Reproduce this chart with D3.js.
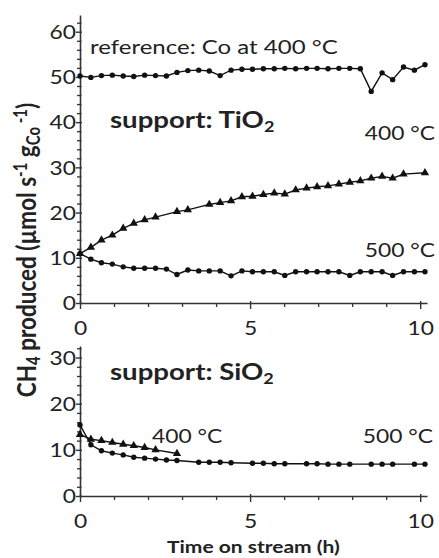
<!DOCTYPE html>
<html><head><meta charset="utf-8">
<script src="https://cdn.jsdelivr.net/npm/d3@7"></script>
<style>
body{margin:0;background:#fff}
text{font-family:Lato,'Open Sans',sans-serif;fill:#222}
</style>
</head><body>
<svg id="c" width="439" height="558"></svg>
<script>
// ---------- data ----------
const gridTimes = [0,0.32,0.63,0.95,1.27,1.58,1.9,2.22,2.54,2.85,3.17,3.49,3.8,4.12,4.44,4.76,5.07,5.39,5.71,6.02,6.34,6.66,6.97,7.29,7.61,7.93,8.24,8.56,8.88,9.19,9.51,9.83,10.14];
const coRefValues = [50.2,49.9,50.3,50.4,50.2,50.1,50.4,50.3,50.2,51.0,51.4,51.5,51.3,50.3,51.5,51.7,51.7,51.8,51.8,51.9,51.8,51.9,51.9,51.8,51.9,51.9,51.8,46.8,50.9,49.4,52.2,51.5,52.7];

const ti400Times = [0,0.32,0.63,0.95,1.27,1.58,1.9,2.22,2.85,3.17,3.8,4.12,4.44,4.76,5.07,5.39,5.71,6.02,6.34,6.66,6.97,7.29,7.61,7.93,8.24,8.56,8.88,9.19,9.51,10.14];
const ti400Values = [10.9,12.3,13.9,15.0,16.5,17.6,18.4,19.0,20.2,20.6,21.8,22.2,22.6,23.5,23.6,24.0,24.3,24.1,25.0,25.4,25.7,25.9,26.3,26.7,27.0,27.6,28.0,27.6,28.5,28.8];

const ti500Values = [10.9,9.7,8.9,8.6,8.0,7.7,7.7,7.7,7.5,6.3,7.3,7.1,7.1,7.1,6.0,7.1,6.9,6.9,6.9,6.1,6.9,6.9,6.9,6.9,6.9,6.1,6.9,6.9,6.9,6.1,6.9,6.9,6.9];

const si400Times = [0,0.32,0.63,0.95,1.27,1.58,1.9,2.22,2.85];
const si400Values = [13.3,12.3,12.0,11.6,11.2,10.9,10.5,10.0,9.2];

const si500Times = [0,0.32,0.63,0.95,1.27,1.58,1.9,2.22,2.54,2.85,3.49,3.8,4.12,4.44,5.07,5.39,5.71,6.02,6.66,6.97,7.29,7.61,7.93,8.56,8.88,9.19,9.83,10.14];
const si500Values = [15.4,11.1,9.8,9.3,8.9,8.4,8.2,8.0,7.8,7.7,7.3,7.3,7.3,7.2,7.1,7.1,7.0,7.0,7.0,7.0,6.9,6.9,6.9,6.9,6.9,6.9,6.9,6.9];

const topYTicks = [0,10,20,30,40,50,60];
const botYTicks = [0,10,20,30];
const xMajorTicks = [0,5,10];
const xMinorTicks = [1,2,3,4,6,7,8,9];

// ---------- drawing ----------
const svg = d3.select("#c");
const SX = 1.2; // horizontal glyph stretch of the reference

const xTop = d3.scaleLinear().domain([0,10.2]).range([80,427]);
const yTop = d3.scaleLinear().domain([0,63.7]).range([303,15]);
const xBot = d3.scaleLinear().domain([0,10.2]).range([80,427]);
const yBot = d3.scaleLinear().domain([0,32.5]).range([496,346]);

function range(a,b,s){const r=[];for(let v=a;v<=b+1e-9;v+=s)r.push(v);return r;}

function drawAxes(x,y,yMajor,yMax,xAxisY){
  const yMinor = range(0,yMax,2).filter(v=>v%10!==0);
  const gYm = svg.append("g").attr("transform","translate(80,0)")
    .call(d3.axisLeft(y).tickValues(yMinor).tickSize(3).tickSizeOuter(0).tickFormat(""));
  gYm.select(".domain").remove();
  gYm.selectAll("line").attr("x1",1.5).attr("x2",-3).attr("stroke","#333").attr("stroke-width",1.3);
  const gY = svg.append("g").attr("transform","translate(80,0)")
    .call(d3.axisLeft(y).tickValues(yMajor).tickSize(5).tickSizeOuter(0));
  gY.select(".domain").attr("stroke","#333").attr("stroke-width",1.6);
  gY.selectAll("line").attr("x1",2).attr("x2",-4).attr("stroke","#333").attr("stroke-width",1.4);
  gY.selectAll("text").attr("x",-4/SX).attr("dy","0.36em")
    .attr("transform",`scale(${SX},1)`).style("font-size","19px").style("font-family","Lato").attr("fill","#222");
  const gXm = svg.append("g").attr("transform",`translate(0,${xAxisY})`)
    .call(d3.axisBottom(x).tickValues(xMinorTicks).tickSize(4).tickSizeOuter(0).tickFormat(""));
  gXm.select(".domain").remove();
  gXm.selectAll("line").attr("stroke","#333").attr("stroke-width",1.3);
  const gX = svg.append("g").attr("transform",`translate(0,${xAxisY})`)
    .call(d3.axisBottom(x).tickValues(xMajorTicks).tickSize(6).tickSizeOuter(0));
  gX.select(".domain").attr("stroke","#333").attr("stroke-width",1.6);
  gX.selectAll("line").attr("y1",-2).attr("stroke","#333").attr("stroke-width",1.4);
  gX.selectAll("text").attr("y",32).attr("dy",0)
    .attr("transform",`scale(${SX},1)`).style("font-size","19px").style("font-family","Lato").attr("fill","#222");
}

drawAxes(xTop,yTop,topYTicks,63.7,303);
drawAxes(xBot,yBot,botYTicks,32.5,496);

function series(x,y,times,values,marker){
  const pts = times.map((t,i)=>[t,values[i]]);
  svg.append("path").datum(pts)
    .attr("d",d3.line().x(d=>x(d[0])).y(d=>y(d[1])))
    .attr("fill","none").attr("stroke","#111").attr("stroke-width",1.4);
  if(marker==="circle"){
    svg.append("g").selectAll("circle").data(pts).join("circle")
      .attr("cx",d=>x(d[0])).attr("cy",d=>y(d[1])).attr("r",2.7).attr("fill","#111");
  } else {
    const sym = d3.symbol(d3.symbolTriangle,30);
    svg.append("g").selectAll("path").data(pts).join("path")
      .attr("d",sym).attr("transform",d=>`translate(${x(d[0])},${y(d[1])})`).attr("fill","#111");
  }
}

series(xTop,yTop,gridTimes,coRefValues,"circle");
series(xTop,yTop,ti400Times,ti400Values,"triangle");
series(xTop,yTop,gridTimes,ti500Values,"circle");
series(xBot,yBot,si500Times,si500Values,"circle");
series(xBot,yBot,si400Times,si400Values,"triangle");

// ---------- texts ----------
function label(x,y,parts,size,weight,anchor){
  const g = svg.append("g").attr("transform",`translate(${x},${y}) scale(${SX},1)`);
  const t = g.append("text").style("font-size",size+"px").style("font-weight",weight||400)
    .attr("text-anchor",anchor||"start");
  parts.forEach(p=>{
    const ts = t.append("tspan").text(p.t);
    if(p.sub){ts.attr("baseline-shift","-22%").style("font-size",Math.round(size*0.65)+"px");}
    if(p.sup){ts.attr("baseline-shift","45%").style("font-size",Math.round(size*0.65)+"px");}
  });
  return t;
}

label(90,54,[{t:"reference: Co at 400 °C"}],20,400);
label(110,128,[{t:"support: TiO"},{t:"2",sub:true}],23,700);
label(435,140,[{t:"400 °C"}],19,400,"end");
label(435,257,[{t:"500 °C"}],19,400,"end");
label(110,380,[{t:"support: SiO"},{t:"2",sub:true}],23,700);
label(152,443,[{t:"400 °C"}],19,400);
label(433,443,[{t:"500 °C"}],19,400,"end");
label(167,553,[{t:"Time on stream (h)"}],17.5,700);

// y title (rotated)
const gT = svg.append("g").attr("transform",`translate(36,250) scale(${SX},1) rotate(-90)`);
const tt = gT.append("text").attr("text-anchor","middle").style("font-size","22.5px").style("font-weight",700);
[{t:"CH"},{t:"4",sub:true},{t:" produced (µmol s"},{t:"-1",sup:true},{t:" g"},{t:"Co",sub:true},{t:" -1",sup:true},{t:")"}]
  .forEach(p=>{
    const ts = tt.append("tspan").text(p.t);
    if(p.sub) ts.attr("baseline-shift","-22%").style("font-size","15px");
    if(p.sup) ts.attr("baseline-shift","45%").style("font-size","15px");
  });
</script>
</body></html>
